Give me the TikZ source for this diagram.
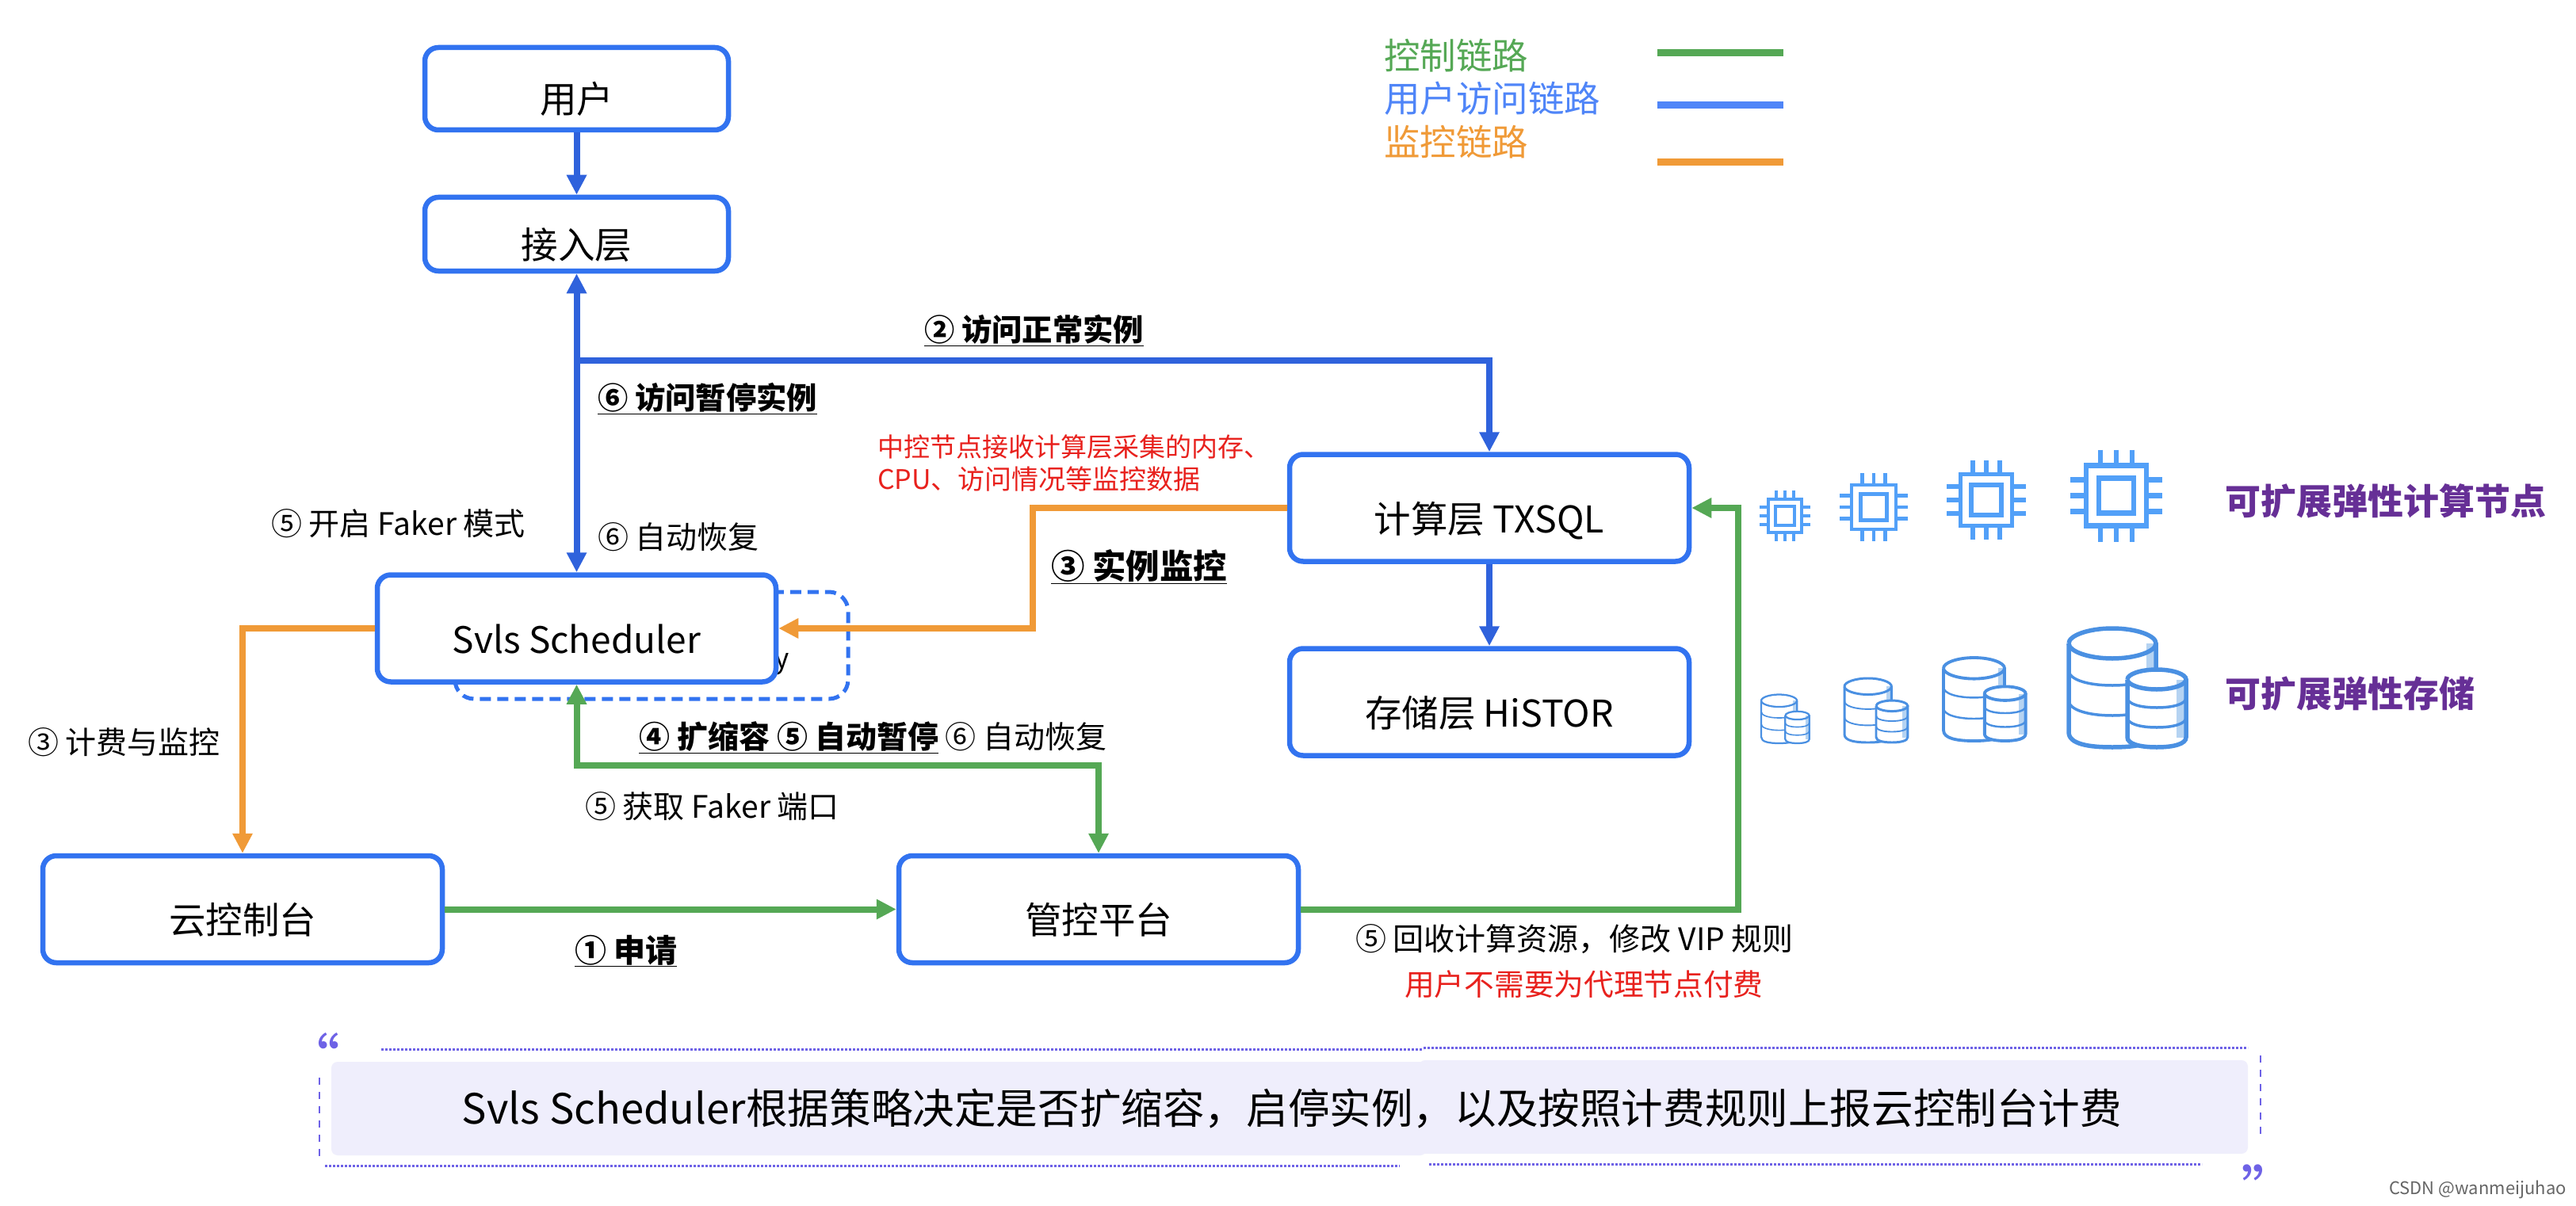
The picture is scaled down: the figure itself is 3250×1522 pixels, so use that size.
\documentclass[tikz,border=0pt]{standalone}
\usepackage{fontspec}
\setmainfont{Noto Sans CJK SC}
\usetikzlibrary{arrows.meta,calc}
\definecolor{boxblue}{HTML}{3273F0}
\definecolor{arrblue}{HTML}{2F62DC}
\definecolor{leggreen}{HTML}{55A855}
\definecolor{legblue}{HTML}{4F85F8}
\definecolor{legorange}{HTML}{F09A37}
\definecolor{txtred}{HTML}{E8211D}
\definecolor{purp}{HTML}{662F96}
\definecolor{chipblue}{HTML}{52A0F8}
\definecolor{dbblue}{HTML}{4A90E2}
\definecolor{dblight}{HTML}{B5D3F2}
\definecolor{quotebg}{HTML}{EFEEFC}
\definecolor{quoteline}{HTML}{6E62E6}
\newcommand{\fs}[1]{\fontsize{#1pt}{#1pt}\selectfont}
\newcommand{\mychip}[3]{%
  \begin{scope}[shift={(#1,#2)},scale=#3/76]
    \pgfmathsetmacro{\lwb}{max(2.6,6.5*#3/76)}
    \draw[chipblue,line width=\lwb pt] (-38,-38) rectangle (38,38);
    \draw[chipblue,line width=\lwb pt] (-22,-22) rectangle (22,22);
    \foreach \p in {-20,0,20}{
      \draw[chipblue,line width=\lwb pt] (\p,-58) -- (\p,-38);
      \draw[chipblue,line width=\lwb pt] (\p,38) -- (\p,58);
      \draw[chipblue,line width=\lwb pt] (-58,\p) -- (-38,\p);
      \draw[chipblue,line width=\lwb pt] (38,\p) -- (58,\p);
    }
  \end{scope}}
\newcommand{\mydb}[3]{%
  \begin{scope}[shift={(#1,#2)},scale=#3]
    \pgfmathsetmacro{\lwd}{max(2.2,5.5*#3)}
    \pgfmathsetmacro{\lwt}{max(1.6,3.5*#3)}
    \fill[dblight] (98,-131) rectangle (110,-60);
    \draw[dbblue,line width=\lwd pt,fill=white,fill opacity=0] (0,-131) -- (0,-19) .. controls (0,-4) and (25,0) .. (55,0) .. controls (85,0) and (110,-4) .. (110,-19) -- (110,-131);
    \draw[dbblue,line width=\lwd pt] (0,-131) .. controls (0,-141) and (25,-150) .. (55,-150) .. controls (85,-150) and (110,-141) .. (110,-131) .. controls (110,-121) and (85,-112) .. (55,-112) .. controls (25,-112) and (0,-121) .. (0,-131);
    \foreach \a in {-97,-59}{
      \draw[dbblue,line width=\lwt pt] (0,\a) .. controls (0,\a+12) and (25,\a+19) .. (55,\a+19) .. controls (75,\a+19) and (90,\a+16) .. (100,\a+10);
    }
    \fill[white] (74,-85) -- (74,-12) .. controls (74,-4) and (90,0) .. (111,0) .. controls (132,0) and (148,-4) .. (148,-12) -- (148,-85) .. controls (148,-92) and (132,-98) .. (111,-98) .. controls (90,-98) and (74,-92) .. (74,-85);
    \fill[dblight] (136,-85) rectangle (148,-12);
    \draw[dbblue,line width=\lwd pt] (74,-85.5) -- (74,-12.5) .. controls (74,-4) and (90,0) .. (111,0) .. controls (132,0) and (148,-4) .. (148,-12.5) -- (148,-85.5);
    \draw[dbblue,line width=\lwd pt] (74,-85.5) .. controls (74,-92) and (90,-98) .. (111,-98) .. controls (132,-98) and (148,-92) .. (148,-85.5) .. controls (148,-79) and (132,-73) .. (111,-73) .. controls (90,-73) and (74,-79) .. (74,-85.5);
    \foreach \a in {-62.5,-37.5}{
      \draw[dbblue,line width=\lwt pt] (74,\a) .. controls (74,\a+8) and (90,\a+12.5) .. (111,\a+12.5) .. controls (132,\a+12.5) and (148,\a+8) .. (148,\a);
    }
  \end{scope}}
\tikzset{
  x=1pt,y=-1pt,
  flowbox/.style={draw=boxblue,line width=6.5pt,rounded corners=17pt,fill=white,align=center,font=\fs{46.5},text height=62pt,text depth=0pt,inner sep=0pt},
  blink/.style={draw=arrblue,line width=8pt,-{Triangle[length=25pt,width=24pt]}},
  glink/.style={draw=leggreen,line width=8pt,-{Triangle[length=25pt,width=24pt]}},
  olink/.style={draw=legorange,line width=8pt,-{Triangle[length=25pt,width=24pt]}},
  lab/.style={font=\fs{39},anchor=west,inner sep=0pt,text=black},
  blab/.style={font=\fs{38.3}\bfseries,anchor=west,inner sep=0pt,text=black},
  redlab/.style={font=\fs{34},anchor=west,inner sep=0pt,text=txtred,align=left},
  leglab/.style={font=\fs{45.5},anchor=west,inner sep=0pt},
  leglink/.style={line width=9pt},
  purplab/.style={font=\fs{45}\bfseries,anchor=west,inner sep=0pt,text=purp},
  dotline/.style={draw=quoteline,line width=3pt,dash pattern=on 3pt off 2pt},
  dashline/.style={draw=quoteline,line width=2pt,dash pattern=on 9pt off 9pt},
}
\begin{document}
\begin{tikzpicture}
\useasboundingbox (0,0) rectangle (3250,1522);
\fill[white] (0,0) rectangle (3250,1522);
% legend
\node[leglab,text=leggreen] (l1) at (1746,70) {控制链路};
\node[leglab,text=legblue] (l2) at (1746,124) {用户访问链路};
\node[leglab,text=legorange] (l3) at (1746,179) {监控链路};
\coordinate (la1) at (2091,67); \coordinate (lb1) at (2250,67);
\coordinate (la2) at (2091,133); \coordinate (lb2) at (2250,133);
\coordinate (la3) at (2091,205); \coordinate (lb3) at (2250,205);
\draw[leglink,leggreen] (la1) -- (lb1);
\draw[leglink,legblue] (la2) -- (lb2);
\draw[leglink,legorange] (la3) -- (lb3);
% dashed box behind scheduler
\draw[boxblue,line width=5pt,dash pattern=on 14pt off 8pt,rounded corners=24pt] (574,747) rectangle (1070,882);
\node[font=\fs{35},inner sep=0pt] (yfrag) at (987,838) {y};
% boxes
\node[flowbox,minimum width=383pt,minimum height=104pt] (user) at (727.5,112) {用户};
\node[flowbox,minimum width=383pt,minimum height=93pt] (access) at (727.5,295.5) {接入层};
\node[flowbox,minimum width=503pt,minimum height=135pt,font=\fs{46}] (svls) at (727.5,793) {Svls Scheduler};
\node[flowbox,minimum width=504pt,minimum height=135pt] (compute) at (1879,641) {计算层 TXSQL};
\node[flowbox,minimum width=504pt,minimum height=135pt] (storage) at (1879,886) {存储层 HiSTOR};
\node[flowbox,minimum width=504pt,minimum height=135pt] (cloud) at (306,1147.5) {云控制台};
\node[flowbox,minimum width=504pt,minimum height=135pt] (mgmt) at (1386,1147.5) {管控平台};
% connectors
\coordinate (branch) at (727.5,455);
\coordinate (omid) at (1303,793);
\coordinate (gmid) at (1386,966);
\coordinate (gright) at (2193,641);
\draw[blink] (user) -- (access);
\draw[blink,{Triangle[length=25pt,width=24pt]}-{Triangle[length=25pt,width=24pt]}] (access) -- (svls);
\draw[blink] (branch) -| (compute);
\draw[blink] (compute) -- (storage);
\draw[olink] (compute.west) -| (omid) -- (svls.east);
\draw[olink] (svls.west) -| (cloud.north);
\draw[glink,{Triangle[length=25pt,width=24pt]}-{Triangle[length=25pt,width=24pt]}] (svls.south) |- (gmid) -- (mgmt.north);
\draw[glink] (cloud.east) -- (mgmt.west);
\draw[glink] (mgmt.east) -| (gright) -- (compute.east);
% labels
\node[blab] (t2) at (1166,417) {\underline{② 访问正常实例}};
\node[blab] (t6a) at (754,503) {\underline{⑥ 访问暂停实例}};
\node[lab] (t5a) at (342,661) {⑤ 开启 Faker 模式};
\node[lab] (t6b) at (754,678) {⑥ 自动恢复};
\node[blab,font=\fs{42.5}\bfseries] (t3) at (1326,715) {\underline{③ 实例监控}};
\node[lab] (t3b) at (35,937) {③ 计费与监控};
\node[lab] (t456) at (806,931) {\textbf{\underline{④ 扩缩容 ⑤ 自动暂停}} ⑥ 自动恢复};
\node[lab] (t5b) at (738,1018) {⑤ 获取 Faker 端口};
\node[blab,font=\fs{40}\bfseries] (t1) at (725,1200) {\underline{① 申请}};
\node[lab] (t5c) at (1710,1185) {⑤ 回收计算资源，修改 VIP 规则};
\node[redlab,font=\fs{37.7}] (r2) at (1772,1242) {用户不需要为代理节点付费};
\node[redlab,font=\fs{33}] (r1a) at (1107,564) {中控节点接收计算层采集的内存、};
\node[redlab] (r1b) at (1107,605) {CPU、访问情况等监控数据};
% chips
\mychip{2252}{651}{42}
\mychip{2364}{640}{56}
\mychip{2506}{631}{65}
\mychip{2670}{625.5}{76}
\node[purplab] (p1) at (2807,632) {可扩展弹性计算节点};
% storage icons
\mydb{2222}{938}{0.41}
\mydb{2327}{937}{0.54}
\mydb{2452}{935}{0.70}
\mydb{2610}{943}{1}
\node[purplab] (p2) at (2807,875) {可扩展弹性存储};
% quote
\fill[quotebg,rounded corners=8pt] (418,1340) rectangle (1800,1458);
\fill[quotebg,rounded corners=8pt] (1790,1338) rectangle (2836,1456);
\draw[dotline] (481,1324) -- (1796,1324);
\draw[dotline] (1796,1322) -- (2836,1322);
\draw[dashline] (2852,1332) -- (2852,1435);
\draw[dashline] (403,1360) -- (403,1462);
\draw[dotline] (410,1471) -- (1766,1471);
\draw[dotline] (1803,1469) -- (2778,1469);
\node[font=\fs{72},text=quoteline,inner sep=0pt] (qo) at (393,1334) {“};
\node[font=\fs{72},text=quoteline,inner sep=0pt] (qc) at (2863,1500) {”};
\node[font=\fs{52.6},inner sep=0pt] (qt) at (1630,1399) {Svls Scheduler根据策略决定是否扩缩容，启停实例，以及按照计费规则上报云控制台计费};
\node[font=\fs{22},text=black!60,anchor=east,inner sep=0pt] (wm) at (3238,1501) {CSDN @wanmeijuhao};
\end{tikzpicture}
\end{document}
